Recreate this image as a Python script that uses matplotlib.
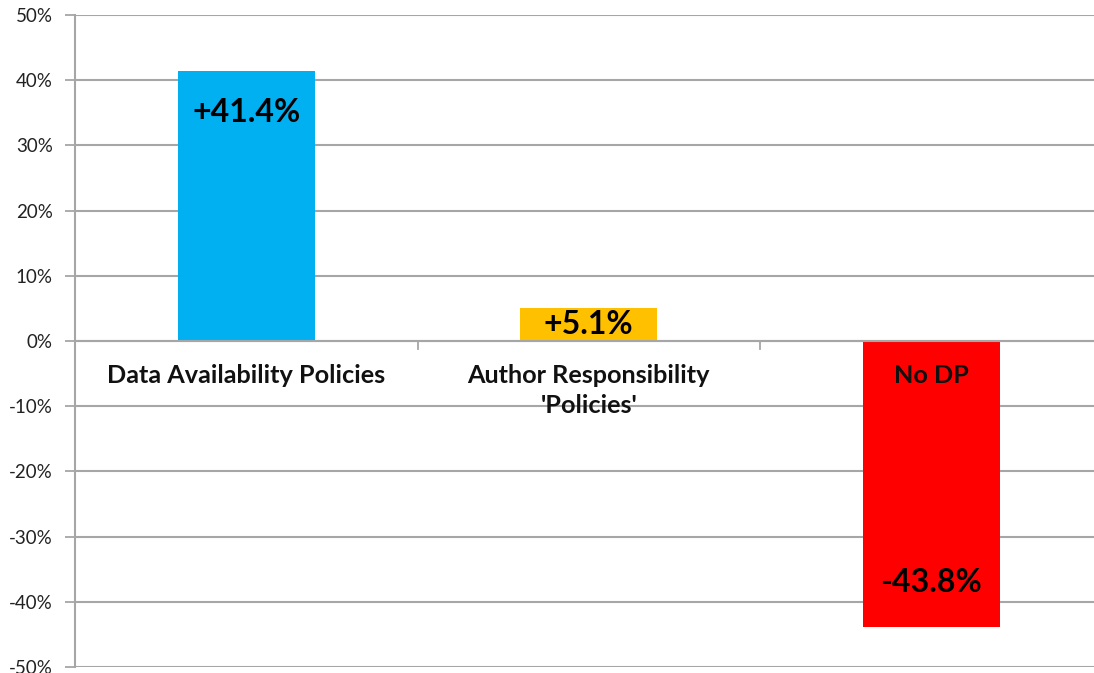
import matplotlib
matplotlib.use("Agg")
from matplotlib import pyplot as plt
import numpy as np

## Data
categories = ["Data Availability Policies", "Author Responsibility\n'Policies'", "No DP"]
values = [41.4, 5.1, -43.8]
labels = ["+41.4%", "+5.1%", "-43.8%"]
bar_colors = ["#00B0F0", "#FFC000", "#FF0000"]
yticks = list(range(-50, 51, 10))

## Set up plot
plt.rcParams["font.family"] = ["Lato", "DejaVu Sans"]
grid_c = "#a6a6a6"

fig = plt.figure(figsize=(10.94, 6.73), dpi=100)
W, H = 1094, 673
ax = fig.add_axes([75 / W, 1 - 667 / H, 1 - 75 / W, (667 - 15) / H])

x = np.arange(len(categories))
ax.bar(x, values, width=0.4, color=bar_colors, zorder=3)

ax.set_ylim(-50, 50)
ax.set_xlim(-0.5, (W - 75) / 342.5 - 0.5)
ax.set_yticks(yticks)
ax.set_yticklabels(["{}%".format(v) for v in yticks], fontsize=13.5, color="#222222")
ax.tick_params(axis="y", length=7, width=1.3, color=grid_c, pad=9)
ax.set_xticks([])
ax.yaxis.grid(True, color=grid_c, linewidth=1.5, zorder=0)
ax.set_axisbelow(True)

for s in ["top", "right", "bottom"]:
    ax.spines[s].set_visible(False)
ax.spines["left"].set_color(grid_c)
ax.spines["left"].set_linewidth(1.5)

# zero axis with category separators
ax.axhline(0, color=grid_c, linewidth=1.5, zorder=4)
for sep in [0.5, 1.5]:
    ax.plot([sep, sep], [0, -1.3], color=grid_c, linewidth=1.3, zorder=4)

# category labels
for xi, cat in zip(x, categories):
    ax.text(xi, -3.5, cat, ha="center", va="top", fontsize=18.2,
            fontweight="bold", color="#111111", linespacing=1.38, zorder=5)

# value labels
label_pos = [values[0] - 6.3, values[1] / 2, values[2] + 6.8]
for xi, y, lab in zip(x, label_pos, labels):
    ax.text(xi, y, lab, ha="center", va="center", fontsize=23,
            fontweight="bold", color="black", zorder=5)

fig.savefig("out.png", dpi=100)
